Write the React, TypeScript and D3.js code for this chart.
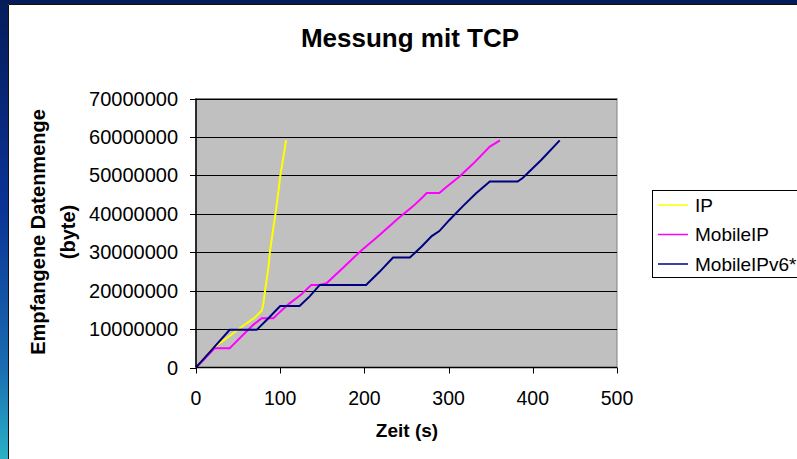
import * as d3 from 'd3';

const W = 797;
const H = 459;

// IP (yellow)
const ipTime = [0, 10, 20, 28, 40, 52, 60, 70, 78, 80, 82, 86, 88, 92, 94, 98, 100, 104, 107];
const ipBytes = [0, 2.5, 5.0, 6.3, 8.2, 10.2, 11.5, 13.0, 14.8, 16.5, 20, 26, 30.5, 36.5, 39.3, 46, 49.7, 55, 59.2].map((v) => v * 1e6);

// MobileIP (magenta)
const mipTime = [0, 10, 22, 40, 44, 56, 68, 78, 92, 96, 110, 125, 137, 147, 155, 175, 195, 218, 240, 258, 270, 274, 289, 297, 313, 329, 349, 361];
const mipBytes = [0, 2.2, 5.0, 5.0, 5.9, 8.5, 11.1, 12.8, 12.8, 13.7, 16.5, 19.0, 21.5, 21.5, 21.9, 26, 30.2, 34.5, 38.8, 42, 44.5, 45.4, 45.4, 46.9, 49.7, 53, 57.5, 59.1].map((v) => v * 1e6);

// MobileIPv6* (navy)
const v6Time = [0, 20, 40, 72, 86, 100, 123, 135, 147, 202, 218, 234, 254, 268, 280, 289, 301, 317, 333, 349, 382, 388, 410, 432];
const v6Bytes = [0, 4.9, 9.8, 9.8, 12.8, 16, 16, 18.5, 21.5, 21.5, 24.9, 28.6, 28.6, 31.5, 34.2, 35.5, 38.4, 42, 45.4, 48.4, 48.4, 49.3, 54, 59.1].map((v) => v * 1e6);

const seriesNames = ['IP', 'MobileIP', 'MobileIPv6*'];
const seriesColors = ['#ffff00', '#ff00ff', '#000080'];

const xTicks = [0, 100, 200, 300, 400, 500];
const yTicks = [0, 10000000, 20000000, 30000000, 40000000, 50000000, 60000000, 70000000];

const font = 'Liberation Sans, Arial, sans-serif';

export default function App() {
  const left = 196;
  const right = 617;
  const top = 98.5;
  const bottom = 367.5;

  const x = d3.scaleLinear().domain([0, 500]).range([left, right]);
  const y = d3.scaleLinear().domain([0, 70000000]).range([bottom, top]);

  const series = [
    { t: ipTime, v: ipBytes },
    { t: mipTime, v: mipBytes },
    { t: v6Time, v: v6Bytes },
  ];

  const line = d3
    .line<[number, number]>()
    .x((d) => x(d[0]))
    .y((d) => y(d[1]));

  return (
    <svg width={W} height={H} style={{ position: 'absolute', left: 0, top: 0, display: 'block' }} fontFamily={font}>
      <defs>
        <linearGradient id="side" x1="0" y1="0" x2="0" y2="1">
          <stop offset="0%" stopColor="#061c5a" />
          <stop offset="45%" stopColor="#0a3396" />
          <stop offset="80%" stopColor="#1a6cb0" />
          <stop offset="100%" stopColor="#2ab2c6" />
        </linearGradient>
      </defs>
      <rect x={0} y={0} width={W} height={H} fill="#ffffff" />
      <rect x={0} y={0} width={W} height={4} fill="#061c5a" />
      <rect x={0} y={0} width={8} height={H} fill="url(#side)" />
      <line x1={8.5} y1={4.5} x2={W} y2={4.5} stroke="#111" />
      <line x1={8.5} y1={4.5} x2={8.5} y2={H} stroke="#111" />

      {/* title */}
      <text x={410} y={46.5} textAnchor="middle" fontSize={26} fontWeight="bold">
        Messung mit TCP
      </text>

      {/* plot area */}
      <rect x={left} y={top} width={right - left} height={bottom - top} fill="#c0c0c0" stroke="#808080" />
      {yTicks.slice(1).map((t) => (
        <line key={t} x1={left} x2={right} y1={Math.round(y(t)) + 0.5} y2={Math.round(y(t)) + 0.5} stroke="#000" />
      ))}

      {series.map((s, i) => (
        <path
          key={i}
          d={line(s.t.map((t, j) => [t, s.v[j]] as [number, number])) || ''}
          fill="none"
          stroke={seriesColors[i]}
          strokeWidth={2}
        />
      ))}

      {/* axes */}
      <line x1={left} x2={left} y1={top} y2={bottom} stroke="#000" strokeWidth={1.5} />
      <line x1={left} x2={right} y1={bottom} y2={bottom} stroke="#000" strokeWidth={1.5} />
      {yTicks.map((t) => (
        <g key={t}>
          <line x1={left - 6} x2={left} y1={Math.round(y(t)) + 0.5} y2={Math.round(y(t)) + 0.5} stroke="#000" />
          <text x={178} y={y(t)} dy="0.35em" textAnchor="end" fontSize={20}>
            {t}
          </text>
        </g>
      ))}
      {xTicks.map((t) => (
        <g key={t}>
          <line x1={Math.round(x(t)) + 0.5} x2={Math.round(x(t)) + 0.5} y1={bottom} y2={bottom + 6} stroke="#000" />
          <text x={x(t)} y={405} textAnchor="middle" fontSize={19.5}>
            {t}
          </text>
        </g>
      ))}

      <text x={407} y={437} textAnchor="middle" fontSize={19} fontWeight="bold">
        Zeit (s)
      </text>
      <g transform="translate(38,232) rotate(-90)">
        <text x={0} y={0} dy="0.35em" textAnchor="middle" fontSize={20} fontWeight="bold">
          Empfangene Datenmenge
        </text>
        <text x={0} y={30} dy="0.35em" textAnchor="middle" fontSize={20} fontWeight="bold">
          (byte)
        </text>
      </g>

      {/* legend */}
      <rect x={652.5} y={190.5} width={170} height={87} fill="#ffffff" stroke="#000" />
      {seriesNames.map((n, i) => (
        <g key={n}>
          <line x1={658} x2={688} y1={205 + i * 29.5} y2={205 + i * 29.5} stroke={seriesColors[i]} strokeWidth={1.5} />
          <text x={695} y={205 + i * 29.5} dy="0.35em" fontSize={19}>
            {n}
          </text>
        </g>
      ))}
    </svg>
  );
}
